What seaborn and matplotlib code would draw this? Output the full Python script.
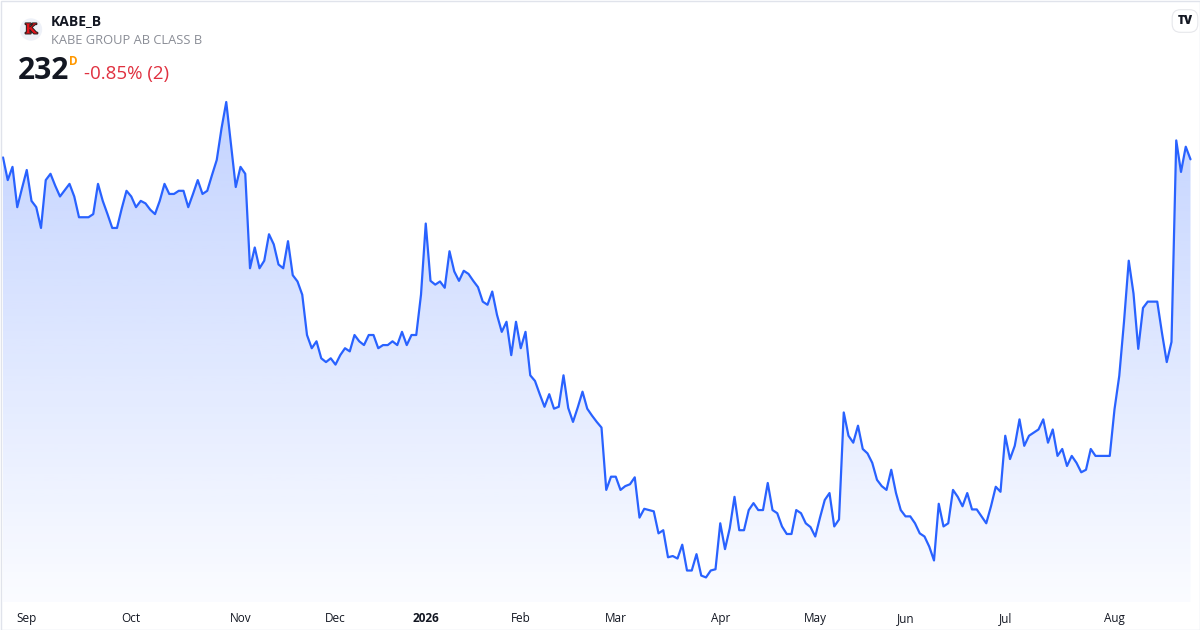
import numpy as np
import pandas as pd
import seaborn as sns
import matplotlib.pyplot as plt
import matplotlib.patheffects as pe
from matplotlib.colors import to_rgb
sns.set_style('white')
plt.rcParams['font.family'] = ['Open Sans', 'DejaVu Sans']

#%%
# header texts
symbol = "KABE_B"
company = "KABE GROUP AB CLASS B"
last_price = "232"
interval = "D"
change_txt = "-0.85% (2)"

# Stockholm exchange closed days inside the window
holidays = ['2025-12-24', '2025-12-25', '2025-12-26', '2025-12-31',
            '2026-01-01', '2026-01-06', '2026-04-03', '2026-04-06',
            '2026-05-01', '2026-05-14', '2026-06-19']
days = pd.bdate_range('2025-08-25', '2026-08-25', freq='C', holidays=holidays)

# daily close
close = [
    232.3, 228.7, 230.8, 224.4, 227.4, 230.3, 225.4, 224.4, 221.1, 228.7,
    229.7, 227.8, 226.1, 227.1, 228.1, 226.1, 222.8, 222.8, 222.8, 223.3,
    228.1, 225.4, 223.3, 221.1, 221.1, 224.2, 227.0, 226.1, 224.4, 225.4,
    225.0, 224.0, 223.3, 225.4, 228.1, 226.5, 226.5, 227.0, 227.0, 224.4,
    226.5, 228.7, 226.5, 227.0, 229.5, 231.9, 236.9, 241.1, 234.3, 227.6,
    230.8, 229.7, 214.7, 218.0, 214.7, 215.9, 220.1, 218.5, 215.3, 214.7,
    219.0, 213.6, 212.6, 210.5, 204.1, 202.0, 203.1, 200.4, 199.8, 200.4,
    199.4, 200.9, 202.0, 201.5, 204.1, 203.1, 202.5, 204.1, 204.1, 202.0,
    202.5, 202.5, 203.1, 202.5, 204.6, 202.5, 204.1, 204.1, 210.5, 221.8,
    212.7, 212.1, 212.6, 211.6, 217.4, 214.2, 212.7, 214.3, 213.8, 212.7,
    211.7, 209.4, 208.9, 211.0, 207.3, 204.6, 206.2, 200.9, 206.2, 202.0,
    204.6, 197.7, 196.8, 194.7, 192.7, 194.7, 192.4, 192.7, 197.7, 192.5,
    190.3, 192.6, 195.1, 192.4, 191.3, 190.3, 189.4, 179.5, 181.6, 181.6,
    179.5, 180.1, 180.4, 181.5, 175.1, 176.5, 176.3, 176.1, 172.6, 173.1,
    168.8, 169.0, 168.6, 170.8, 166.7, 166.7, 169.3, 165.9, 165.6, 166.7,
    166.9, 174.2, 170.1, 173.4, 178.4, 173.1, 173.1, 176.3, 177.4, 176.3,
    176.3, 180.6, 176.3, 175.8, 173.7, 172.5, 172.5, 176.3, 175.8, 174.2,
    173.6, 172.1, 175.1, 177.9, 179.0, 173.7, 174.8, 191.8, 188.1, 187.0,
    189.7, 186.0, 185.3, 183.8, 181.1, 180.1, 179.5, 182.7, 179.0, 176.3,
    175.3, 175.3, 174.2, 172.6, 172.1, 170.5, 168.3, 177.3, 173.7, 174.2,
    179.5, 178.4, 176.9, 179.0, 176.4, 176.4, 175.3, 174.2, 176.9, 180.0,
    179.2, 188.1, 184.4, 186.5, 190.7, 186.5, 188.1, 188.6, 189.1, 190.7,
    187.0, 189.1, 184.9, 186.0, 183.3, 184.9, 183.8, 182.3, 182.7, 186.0,
    184.9, 184.9, 184.9, 184.9, 192.3, 197.6, 206.2, 215.9, 210.7, 201.9,
    208.4, 209.4, 209.4, 209.4, 204.4, 199.8, 203.0, 235.0, 230.0, 234.0,
    232.0,
]

df = pd.DataFrame({'date': days[:len(close)], 'close': close})
df['i'] = np.arange(len(df))

# first trading day of each month -> tick, January shows the year
firsts = df.groupby(df['date'].dt.to_period('M'))['i'].min().iloc[1:]
tick_lbl = [d.strftime('%Y') if d.month == 1 else d.strftime('%b')
            for d in firsts.index.to_timestamp()]

#%%
W, H = 1200, 630
fig = plt.figure(figsize=(12, 6.3), dpi=100)
fig.patch.set_facecolor('white')
ax = fig.add_axes([0, 28 / H, 1, 602 / H])
ax.set_facecolor('none')

ylo, yhi = 161.7, 257.3
blue = '#2962FF'

sns.lineplot(data=df, x='i', y='close', ax=ax, color=blue, linewidth=1.6, zorder=3)

# gradient area under the line
grad = np.zeros((256, 1, 4))
grad[..., :3] = to_rgb(blue)
grad[:, 0, 3] = np.linspace(0.28, 0.02, 256)
im = ax.imshow(grad, aspect='auto', origin='upper', zorder=1,
               extent=[df['i'].min(), df['i'].max(), ylo, df['close'].max()])
poly = ax.fill_between(df['i'], df['close'], ylo, facecolor='none', edgecolor='none')
im.set_clip_path(poly.get_paths()[0], transform=ax.transData)

ax.set_xlim(-3 / 4.75, 1197 / 4.75)
ax.set_ylim(ylo, yhi)
sns.despine(ax=ax, left=True, bottom=True)
ax.set_yticks([])
ax.set_xticks(firsts.values, tick_lbl)
ax.tick_params(axis='x', length=0, pad=7, labelsize=8.5, labelcolor='#131722')
for t in ax.get_xticklabels():
    if t.get_text().isdigit():
        t.set_fontweight('bold')
ax.set_xlabel('')
ax.set_ylabel('')


def fx(px):
    return px / W


def fy(py):
    return 1 - py / H


# logo
fig.text(fx(31), fy(29.5), 'K', ha='center', va='center', color='#e1141d',
         fontsize=10, fontweight='bold', family='DejaVu Serif',
         path_effects=[pe.withStroke(linewidth=1.4, foreground='#222222')],
         bbox=dict(boxstyle='circle,pad=0.3', fc='#eef1f8', ec='none'))

fig.text(fx(51), fy(21), symbol, ha='left', va='center', fontsize=10,
         fontweight='bold', color='#131722')
fig.text(fx(51), fy(40.5), company, ha='left', va='center', fontsize=9.3,
         color='#8a8d96')
fig.text(fx(18), fy(71), last_price, ha='left', va='center', fontsize=21.5,
         fontweight='bold', color='#131722')
fig.text(fx(68.5), fy(61.5), interval, ha='left', va='center', fontsize=8.5,
         fontweight='bold', color='#ff9800')
fig.text(fx(84), fy(74.5), change_txt, ha='left', va='center', fontsize=13.5,
         color='#e0303f')

# TradingView badge
fig.text(fx(1185), fy(21), 'TV', ha='center', va='center', fontsize=8.5,
         fontweight='black', color='#131722',
         bbox=dict(boxstyle='round,pad=0.45,rounding_size=0.7', fc='white',
                   ec='#e6e7eb', lw=0.8))

# card border
fig.add_artist(plt.Rectangle((0.5 / W, 0.5 / H), 1 - 1 / W, 1 - 1 / H,
                             transform=fig.transFigure, fill=False,
                             ec='#e0e3eb', lw=1))

fig.savefig('out.png', dpi=100, facecolor='white')
